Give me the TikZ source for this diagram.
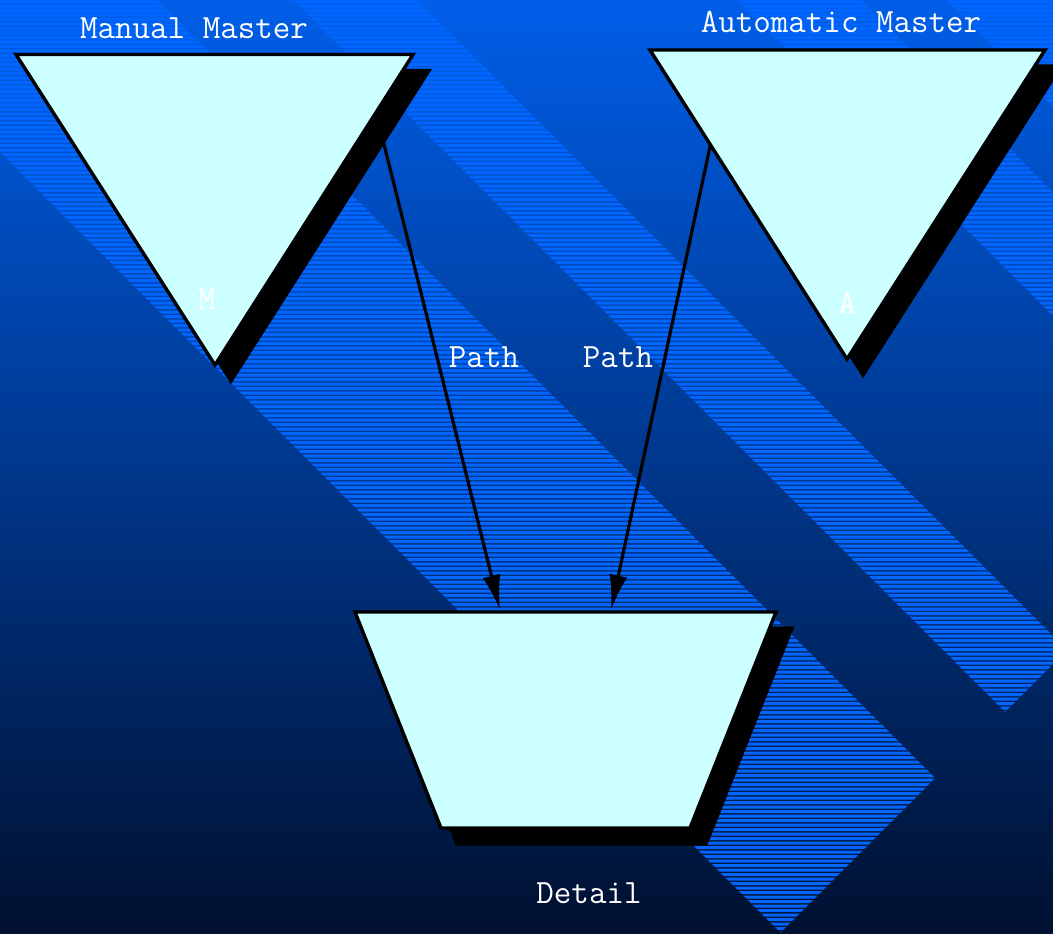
\documentclass[tikz,border=0pt]{standalone}
\usetikzlibrary{arrows.meta}
\definecolor{bgtop}{RGB}{0,94,232}
\definecolor{bgbot}{RGB}{0,16,48}
\definecolor{hatchblue}{RGB}{0,102,255}
\definecolor{nodefill}{RGB}{204,255,255}
\tikzset{
  shapeline/.style={draw=black, line width=3.4pt, fill=nodefill, line join=miter},
  shadowshape/.style={draw=black, line width=3.4pt, fill=black},
  edge/.style={draw=black, line width=3.2pt, -{Latex[length=35pt,width=18pt]}},
  lbl/.style={text=white, font=\fontsize{34}{37}\selectfont\ttfamily, inner sep=0pt},
}
\begin{document}
\begin{tikzpicture}[x=1pt,y=-1pt]
\useasboundingbox (0,0) rectangle (1053,934);
% background gradient
\shade[top color=bgtop, bottom color=bgbot] (0,0) rectangle (1053,934);
% hatched diagonal bands
\begin{scope}
\clip (0,0) -- (157,0) -- (935,778) -- (780.5,932.5) -- (0,152) -- cycle
      (293,0) -- (417,0) -- (1053,636) -- (1053,664) -- (1005,712) -- cycle
      (737,0) -- (861,0) -- (1053,192) -- (1053,316) -- cycle
      (946,0) -- (1053,0) -- (1053,107) -- cycle;
\fill[hatchblue] \foreach \k in {0,...,208} { (0,\k*4.5) rectangle (1053,\k*4.5+3.2) };
\end{scope}
% named points
\coordinate (mmL) at (16,54.5);
\coordinate (mmR) at (413,54.5);
\coordinate (mmB) at (215,365);
\coordinate (amL) at (650,50);
\coordinate (amR) at (1045,50);
\coordinate (amB) at (847,359);
\coordinate (dTL) at (355,612);
\coordinate (dTR) at (776,612);
\coordinate (dBR) at (690,828);
\coordinate (dBL) at (441,828);
\coordinate (mmsrc) at (373,100);
\coordinate (amsrc) at (720,100);
\coordinate (din1) at (500,610);
\coordinate (din2) at (611,610);
% connectors (behind shapes)
\draw[edge] (mmsrc) -- (din1);
\draw[edge] (amsrc) -- (din2);
% shadows
\draw[shadowshape] ([shift={(16,16)}]mmL) -- ([shift={(16,16)}]mmR) -- ([shift={(16,16)}]mmB) -- cycle;
\draw[shadowshape] ([shift={(16,16)}]amL) -- ([shift={(16,16)}]amR) -- ([shift={(16,16)}]amB) -- cycle;
\draw[shadowshape] ([shift={(16,16)}]dTL) -- ([shift={(16,16)}]dTR) -- ([shift={(16,16)}]dBR) -- ([shift={(16,16)}]dBL) -- cycle;
% shapes
\draw[shapeline] (mmL) -- (mmR) -- (mmB) -- cycle;
\draw[shapeline] (amL) -- (amR) -- (amB) -- cycle;
\draw[shapeline] (dTL) -- (dTR) -- (dBR) -- (dBL) -- cycle;
% labels
\node[lbl] (mmtitle) at (194,28) {Manual Master};
\node[lbl] (amtitle) at (841,22) {Automatic Master};
\node[lbl] (mmlabel) at (207,299) {M};
\node[lbl] (amlabel) at (847,303) {A};
\node[lbl] (path1) at (484,357) {Path};
\node[lbl] (path2) at (618,357) {Path};
\node[lbl] (detail) at (589,893) {Detail};
\end{tikzpicture}
\end{document}
